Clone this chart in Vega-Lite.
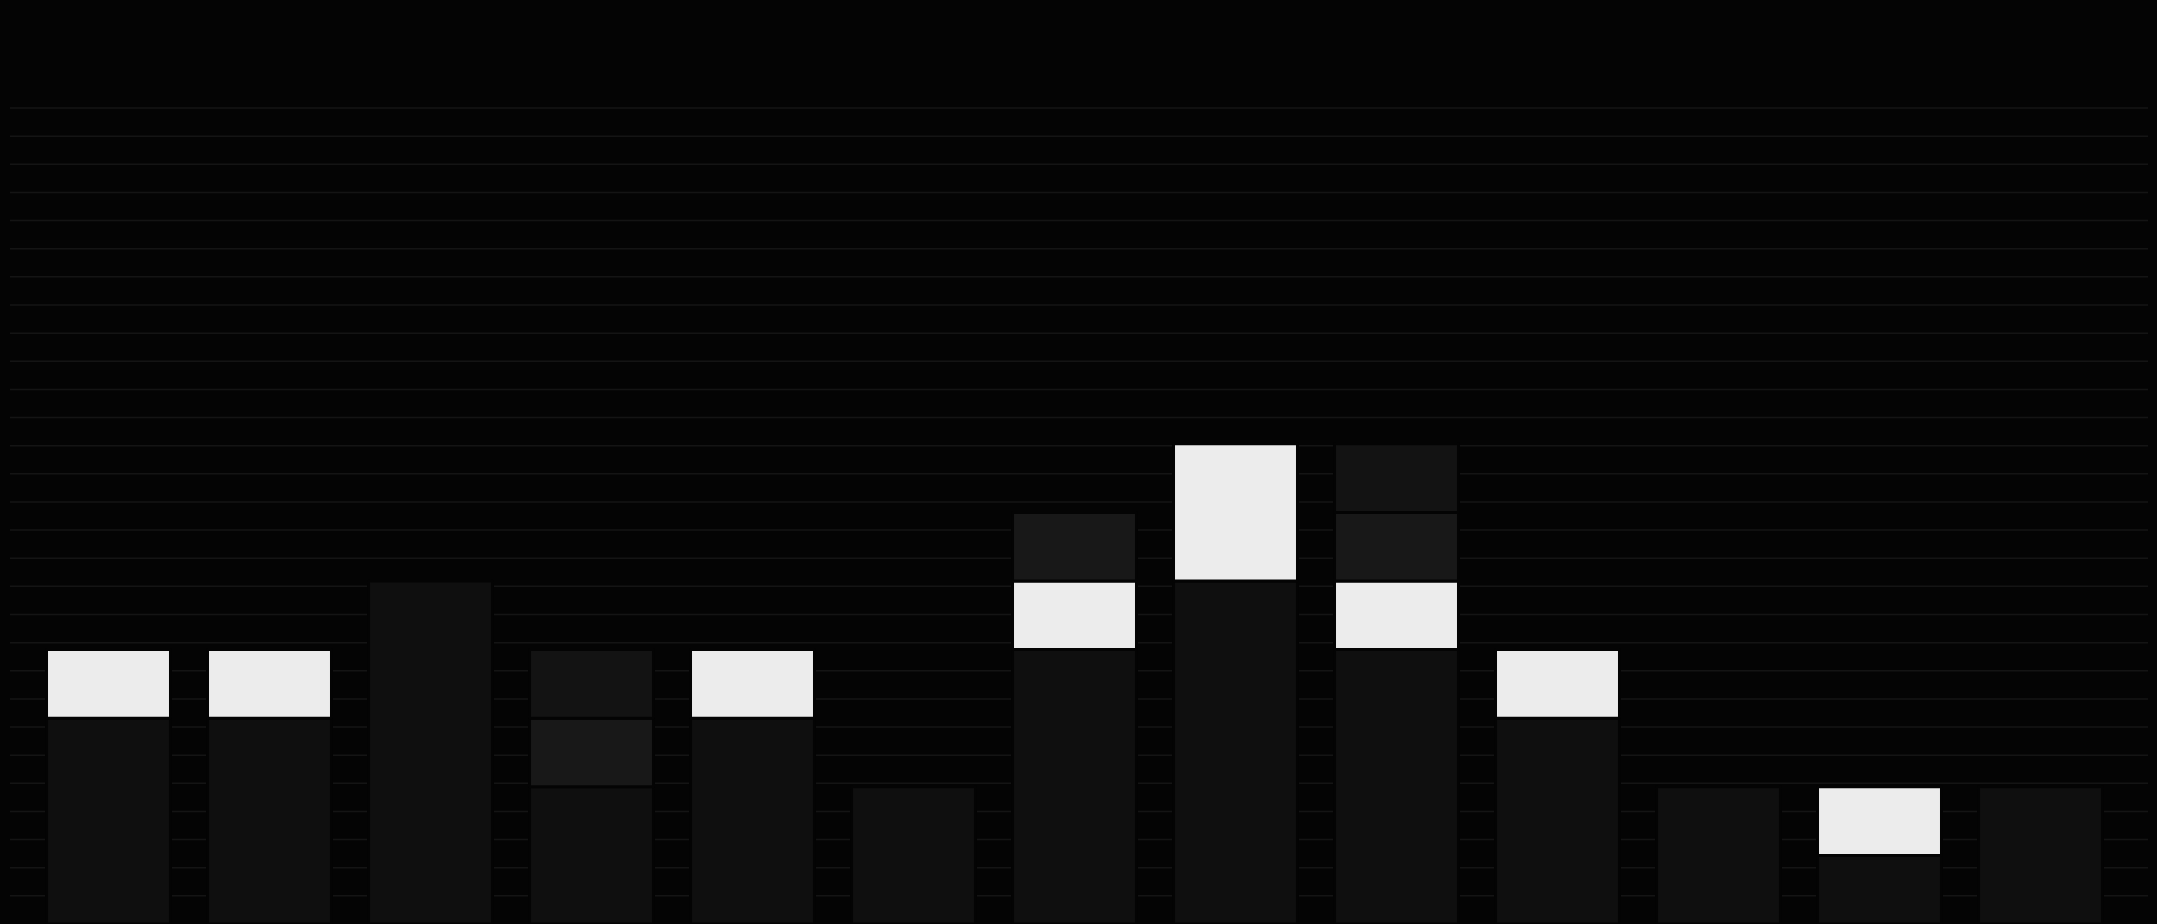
{
  "$schema": "https://vega.github.io/schema/vega-lite/v6.json",
  "description": "Dark stacked block bars over faint horizontal rules.",
  "width": 2138,
  "height": 924,
  "autosize": {"type": "none"},
  "padding": {"left": 10, "top": 0, "right": 9, "bottom": 0},
  "background": "#040404",
  "config": {"view": {"stroke": null}},
  "datasets": {
    "blocks": [
      {"bar": 1, "lo": 0, "hi": 3, "tone": "base"},
      {"bar": 1, "lo": 3, "hi": 4, "tone": "white"},
      {"bar": 2, "lo": 0, "hi": 3, "tone": "base"},
      {"bar": 2, "lo": 3, "hi": 4, "tone": "white"},
      {"bar": 3, "lo": 0, "hi": 5, "tone": "base"},
      {"bar": 4, "lo": 0, "hi": 2, "tone": "base"},
      {"bar": 4, "lo": 2, "hi": 3, "tone": "mid"},
      {"bar": 4, "lo": 3, "hi": 4, "tone": "dim"},
      {"bar": 5, "lo": 0, "hi": 3, "tone": "base"},
      {"bar": 5, "lo": 3, "hi": 4, "tone": "white"},
      {"bar": 6, "lo": 0, "hi": 2, "tone": "base"},
      {"bar": 7, "lo": 0, "hi": 4, "tone": "base"},
      {"bar": 7, "lo": 4, "hi": 5, "tone": "white"},
      {"bar": 7, "lo": 5, "hi": 6, "tone": "mid"},
      {"bar": 8, "lo": 0, "hi": 5, "tone": "base"},
      {"bar": 8, "lo": 5, "hi": 7, "tone": "white"},
      {"bar": 9, "lo": 0, "hi": 4, "tone": "base"},
      {"bar": 9, "lo": 4, "hi": 5, "tone": "white"},
      {"bar": 9, "lo": 5, "hi": 6, "tone": "mid"},
      {"bar": 9, "lo": 6, "hi": 7, "tone": "dim"},
      {"bar": 10, "lo": 0, "hi": 3, "tone": "base"},
      {"bar": 10, "lo": 3, "hi": 4, "tone": "white"},
      {"bar": 11, "lo": 0, "hi": 2, "tone": "base"},
      {"bar": 12, "lo": 0, "hi": 1, "tone": "base"},
      {"bar": 12, "lo": 1, "hi": 2, "tone": "white"},
      {"bar": 13, "lo": 0, "hi": 2, "tone": "base"}
    ],
    "rules": [
      {"g": 0}, {"g": 1}, {"g": 2}, {"g": 3}, {"g": 4}, {"g": 5}, {"g": 6},
      {"g": 7}, {"g": 8}, {"g": 9}, {"g": 10}, {"g": 11}, {"g": 12}, {"g": 13},
      {"g": 14}, {"g": 15}, {"g": 16}, {"g": 17}, {"g": 18}, {"g": 19}, {"g": 20},
      {"g": 21}, {"g": 22}, {"g": 23}, {"g": 24}, {"g": 25}, {"g": 26}, {"g": 27},
      {"g": 28}
    ]
  },
  "layer": [
    {
      "data": {"name": "rules"},
      "mark": {"type": "rule", "color": "#141414", "strokeWidth": 1.5},
      "encoding": {
        "y": {
          "field": "g",
          "type": "quantitative",
          "scale": {"domain": [-1, 31.84], "nice": false, "zero": false},
          "axis": null
        }
      }
    },
    {
      "data": {"name": "blocks"},
      "mark": {"type": "bar", "stroke": "#040404", "strokeWidth": 3, "cornerRadius": 1},
      "encoding": {
        "x": {
          "field": "bar",
          "type": "ordinal",
          "scale": {"range": [18, 2111], "paddingInner": 0.23, "paddingOuter": 0.115},
          "axis": null
        },
        "y": {
          "field": "lo",
          "type": "quantitative",
          "scale": {"domain": [0, 13.47], "nice": false},
          "axis": null
        },
        "y2": {"field": "hi"},
        "color": {
          "field": "tone",
          "type": "nominal",
          "scale": {
            "domain": ["base", "dim", "mid", "white"],
            "range": ["#0f0f0f", "#131313", "#181818", "#ececec"]
          },
          "legend": null
        }
      }
    }
  ],
  "resolve": {"scale": {"y": "independent"}}
}
